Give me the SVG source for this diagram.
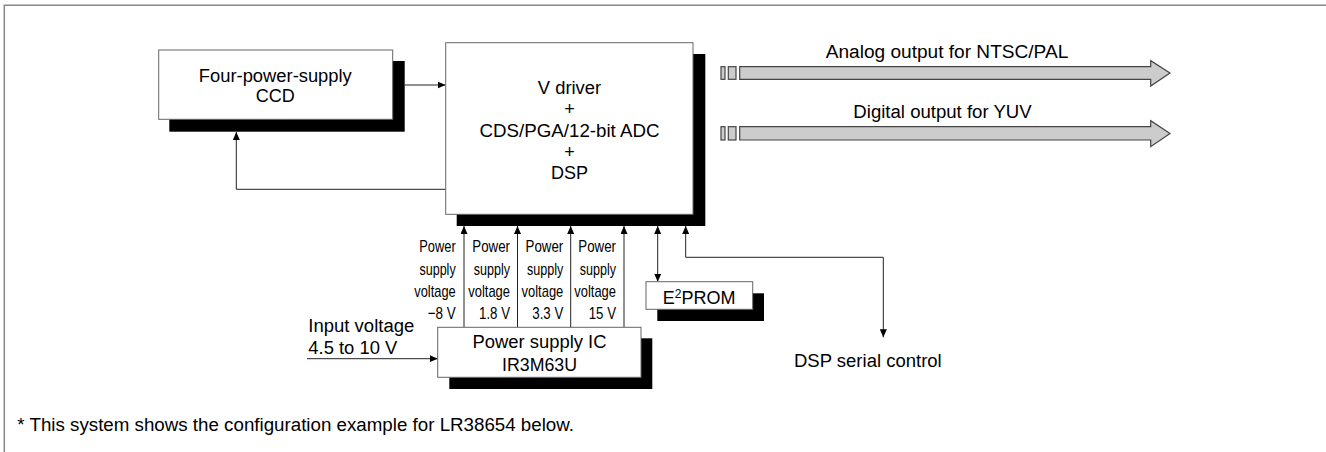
<svg xmlns="http://www.w3.org/2000/svg" width="1326" height="452" viewBox="0 0 1326 452">
<style>
text{font-family:"Liberation Sans",Arial,sans-serif;fill:#000}
.t18{font-size:18px}
.tc{text-anchor:middle}
.pw{font-size:17px;text-anchor:end}
.box{fill:#fff;stroke:#666;stroke-width:1}
.sh{fill:#000}
.ln{fill:none;stroke:#222;stroke-width:1}
.oa{fill:#cccccc;stroke:#444;stroke-width:1.2}
</style>
<defs>
<marker id="ah" markerUnits="userSpaceOnUse" markerWidth="9" markerHeight="8" refX="8" refY="3.5" orient="auto-start-reverse">
<path d="M0,0 L8,3.5 L0,7 z" fill="#000"/>
</marker>
</defs>
<path d="M4.3,452 V5.3 H1326" fill="none" stroke="#888" stroke-width="1.5"/>

<g id="connectors">
<line class="ln" x1="404.7" y1="85" x2="445.5" y2="85" marker-end="url(#ah)"/>
<polyline class="ln" points="445.5,189.3 236.3,189.3 236.3,132" marker-end="url(#ah)"/>
<line class="ln" x1="464" y1="327.3" x2="464" y2="226" marker-end="url(#ah)"/>
<line class="ln" x1="517.5" y1="327.3" x2="517.5" y2="226" marker-end="url(#ah)"/>
<line class="ln" x1="570.7" y1="327.3" x2="570.7" y2="226" marker-end="url(#ah)"/>
<line class="ln" x1="624" y1="327.3" x2="624" y2="226" marker-end="url(#ah)"/>
<line class="ln" x1="657.7" y1="226" x2="657.7" y2="281.7" marker-start="url(#ah)" marker-end="url(#ah)"/>
<polyline class="ln" points="883.3,337.3 883.3,257.3 685.7,257.3 685.7,226" marker-start="url(#ah)" marker-end="url(#ah)"/>
<line class="ln" x1="307" y1="358.7" x2="437.7" y2="358.7" marker-end="url(#ah)"/>
</g>

<g id="ccd">
<rect class="sh" x="169.3" y="61" width="235.4" height="70.7"/>
<rect class="box" x="158.7" y="50" width="234" height="69.3"/>
<text class="t18 tc" x="275.3" y="81.7" textLength="153" lengthAdjust="spacingAndGlyphs">Four-power-supply</text>
<text class="t18 tc" x="275.3" y="101.7">CCD</text>
</g>

<g id="main">
<rect class="sh" x="456.7" y="54" width="248.6" height="172"/>
<rect class="box" x="445.7" y="42.7" width="247.3" height="171.6"/>
<text class="t18 tc" x="569.5" y="94" textLength="63.3" lengthAdjust="spacingAndGlyphs">V driver</text>
<text class="t18 tc" x="569.5" y="115">+</text>
<text class="t18 tc" x="569.5" y="136.5" textLength="180" lengthAdjust="spacingAndGlyphs">CDS/PGA/12-bit ADC</text>
<text class="t18 tc" x="569.5" y="157.5">+</text>
<text class="t18 tc" x="569.5" y="178.5">DSP</text>
</g>

<g id="out-analog">
<rect class="oa" x="721" y="66.7" width="4" height="12.6"/>
<rect class="oa" x="728.3" y="66.7" width="7.7" height="12.6"/>
<polygon class="oa" points="739.7,66.7 1150.7,66.7 1150.7,60.7 1170,73 1150.7,86 1150.7,79.3 739.7,79.3"/>
<text class="t18 tc" x="947" y="58.3" textLength="242.6" lengthAdjust="spacingAndGlyphs">Analog output for NTSC/PAL</text>
</g>

<g id="out-digital">
<rect class="oa" x="721" y="126.7" width="4" height="13.3"/>
<rect class="oa" x="728.3" y="126.7" width="7.7" height="13.3"/>
<polygon class="oa" points="739.7,126.7 1150.7,126.7 1150.7,120.7 1170,133.4 1150.7,146.7 1150.7,140 739.7,140"/>
<text class="t18 tc" x="942.5" y="118.3" textLength="178.3" lengthAdjust="spacingAndGlyphs">Digital output for YUV</text>
</g>

<g id="power-labels">
<text class="pw" x="455.7" y="252.3" textLength="36.4" lengthAdjust="spacingAndGlyphs">Power</text>
<text class="pw" x="455.7" y="274.5" textLength="36.3" lengthAdjust="spacingAndGlyphs">supply</text>
<text class="pw" x="455.7" y="296.7" textLength="41.4" lengthAdjust="spacingAndGlyphs">voltage</text>
<text class="pw" x="455.7" y="319" textLength="28" lengthAdjust="spacingAndGlyphs">−8 V</text>

<text class="pw" x="510" y="252.3" textLength="37.7" lengthAdjust="spacingAndGlyphs">Power</text>
<text class="pw" x="510" y="274.5" textLength="36.3" lengthAdjust="spacingAndGlyphs">supply</text>
<text class="pw" x="510" y="296.7" textLength="41.7" lengthAdjust="spacingAndGlyphs">voltage</text>
<text class="pw" x="510" y="319" textLength="31" lengthAdjust="spacingAndGlyphs">1.8 V</text>

<text class="pw" x="563.3" y="252.3" textLength="37.7" lengthAdjust="spacingAndGlyphs">Power</text>
<text class="pw" x="563.3" y="274.5" textLength="36.3" lengthAdjust="spacingAndGlyphs">supply</text>
<text class="pw" x="563.3" y="296.7" textLength="41.7" lengthAdjust="spacingAndGlyphs">voltage</text>
<text class="pw" x="563.3" y="319" textLength="31" lengthAdjust="spacingAndGlyphs">3.3 V</text>

<text class="pw" x="616" y="252.3" textLength="37.7" lengthAdjust="spacingAndGlyphs">Power</text>
<text class="pw" x="616" y="274.5" textLength="36.3" lengthAdjust="spacingAndGlyphs">supply</text>
<text class="pw" x="616" y="296.7" textLength="41.7" lengthAdjust="spacingAndGlyphs">voltage</text>
<text class="pw" x="616" y="319" textLength="27.3" lengthAdjust="spacingAndGlyphs">15 V</text>
</g>

<g id="input-label">
<text class="t18" x="308.3" y="331.7" textLength="106" lengthAdjust="spacingAndGlyphs">Input voltage</text>
<text class="t18" x="308.3" y="354" textLength="89" lengthAdjust="spacingAndGlyphs">4.5 to 10 V</text>
</g>

<g id="power-ic">
<rect class="sh" x="449.3" y="338.3" width="203" height="50.7"/>
<rect class="box" x="437.7" y="327.3" width="203.3" height="50"/>
<text class="t18 tc" x="539.5" y="348.3" textLength="134" lengthAdjust="spacingAndGlyphs">Power supply IC</text>
<text class="t18 tc" x="539.5" y="370.7" textLength="75" lengthAdjust="spacingAndGlyphs">IR3M63U</text>
</g>

<g id="eeprom">
<rect class="sh" x="657.3" y="293.3" width="106.7" height="27.7"/>
<rect class="box" x="646" y="281.7" width="106.7" height="27.6"/>
<text class="t18" x="662.7" y="304">E<tspan font-size="12" dy="-6">2</tspan><tspan dy="6">PROM</tspan></text>
</g>

<g id="dsp-serial">
<text class="t18" x="794" y="366.7" textLength="147.7" lengthAdjust="spacingAndGlyphs">DSP serial control</text>
</g>

<g id="footnote">
<text class="t18" x="17.3" y="430.7" textLength="556.7" lengthAdjust="spacingAndGlyphs">* This system shows the configuration example for LR38654 below.</text>
</g>
</svg>
